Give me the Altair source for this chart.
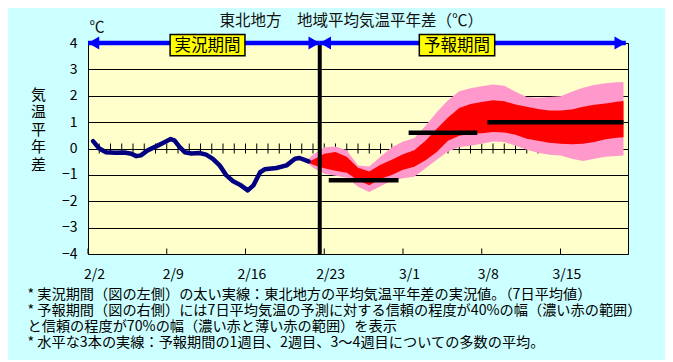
import altair as alt
import pandas as pd

FONT = "Noto Sans CJK JP"

# ---------------- data ----------------
tick_days = [0, 7, 14, 21, 28, 35, 42]
tick_labels = ["2/2", "2/9", "2/16", "2/23", "3/1", "3/8", "3/15"]
minor_days = list(range(1, 48))
y_ticks = [-4, -3, -2, -1, 0, 1, 2, 3, 4]

# observed 7-day mean anomaly (days since 2/2)
obs_day = [0.45, 1.0, 1.6, 2.4, 3.25, 3.85, 4.3, 4.7, 5.3, 6.1, 6.8, 7.35, 7.7, 8.15,
           8.6, 9.2, 9.9, 10.5, 11.1, 11.7, 12.3, 12.9, 13.5, 14.2, 14.7, 15.3, 15.7,
           16.75, 17.65, 18.4, 18.8, 19.6]
obs_val = [0.28, 0.0, -0.14, -0.16, -0.15, -0.20, -0.29, -0.26, -0.07, 0.09, 0.24, 0.36,
           0.30, 0.05, -0.14, -0.19, -0.17, -0.23, -0.39, -0.64, -1.02, -1.24, -1.37,
           -1.59, -1.40, -0.90, -0.79, -0.74, -0.64, -0.39, -0.36, -0.49]

# forecast ranges
band_day = [19.6, 20, 21, 22, 23, 24, 25, 26, 27, 28, 29, 30, 31, 32, 33, 34, 35, 36,
            37, 38, 39, 40, 41, 42, 43, 44, 45, 46, 47, 47.6]
pink_hi = [-0.39, -0.24, 0.05, 0.08, -0.07, -0.64, -0.68, -0.31, 0.05, 0.27, 0.39, 0.86,
           1.37, 1.83, 2.17, 2.28, 2.36, 2.43, 2.38, 2.15, 1.95, 1.92, 1.95, 1.98, 2.15,
           2.30, 2.41, 2.47, 2.51, 2.52]
red_hi = [-0.49, -0.43, -0.20, -0.13, -0.31, -0.73, -0.87, -0.62, -0.43, -0.22, -0.07, 0.29,
          0.75, 1.18, 1.54, 1.69, 1.76, 1.83, 1.79, 1.67, 1.58, 1.50, 1.44, 1.44, 1.48,
          1.58, 1.66, 1.71, 1.77, 1.80]
red_lo = [-0.54, -0.62, -0.75, -0.84, -0.92, -1.20, -1.39, -1.15, -1.00, -0.81, -0.69, -0.45,
          -0.13, 0.29, 0.48, 0.56, 0.58, 0.63, 0.61, 0.52, 0.37, 0.29, 0.22, 0.18, 0.16,
          0.18, 0.25, 0.35, 0.41, 0.43]
pink_lo = [-0.58, -0.73, -0.96, -1.03, -1.11, -1.45, -1.65, -1.43, -1.22, -1.13, -1.07, -0.75,
           -0.43, -0.11, 0.06, 0.10, 0.18, 0.27, 0.25, 0.10, -0.05, -0.16, -0.24, -0.27,
           -0.39, -0.47, -0.39, -0.31, -0.28, -0.27]

# weekly ensemble means
week_start = [21.4, 28.5, 35.5]
week_end = [27.6, 34.6, 47.6]
week_val = [-1.2, 0.6, 1.0]

# periods
boundary_day = 20.6
period_names = ["実況期間", "予報期間"]
period_start = [0, 20.6]
period_end = [20.6, 47.8]

title_text = "東北地方　地域平均気温平年差（℃）"
notes = [
    "* 実況期間（図の左側）の太い実線：東北地方の平均気温平年差の実況値。（7日平均値）",
    "* 予報期間（図の右側）には7日平均気温の予測に対する信頼の程度が40%の幅（濃い赤の範囲）",
    "\u00a0\u00a0と信頼の程度が70%の幅（濃い赤と薄い赤の範囲）を表示",
    "* 水平な3本の実線：予報期間の1週目、2週目、3～4週目についての多数の平均。",
]

# ---------------- annotation placement (data units) ----------------
label_box = pd.DataFrame({
    "name": period_names,
    "x0": [7.3, 29.45], "x1": [13.95, 36.15],
    "y0": [3.52, 3.52], "y1": [4.32, 4.32],
    "xc": [10.62, 32.8], "yc": [3.9, 3.9],
})
heads_left = pd.DataFrame({"d": [0.5, 21.1], "v": [4, 4]})
heads_right = pd.DataFrame({"d": [20.1, 47.3], "v": [4, 4]})
title_df = pd.DataFrame({"d": [23.4], "v": [4.84], "t": [title_text]})
unit_df = pd.DataFrame({"d": [0.8], "v": [4.6], "t": ["℃"]})

# ---------------- tables ----------------
obs = pd.DataFrame({"day": obs_day, "val": obs_val})
band = pd.DataFrame({"day": band_day, "ph": pink_hi, "rh": red_hi, "rl": red_lo, "pl": pink_lo})
weeks = pd.DataFrame({"s": week_start, "e": week_end, "v": week_val})
periods = pd.DataFrame({"s": period_start, "e": period_end, "v": [4, 4]})
minor = pd.DataFrame({"day": minor_days, "v": [0] * len(minor_days)})
major = pd.DataFrame({"day": tick_days, "v": [-4] * len(tick_days)})
boundary = pd.DataFrame({"d": [boundary_day], "lo": [-4], "hi": [4]})

X = alt.Scale(domain=[0, 48], nice=False, zero=False)
Y = alt.Scale(domain=[-4, 4], nice=False, zero=False)

label_expr = " : ".join(f"datum.value == {d} ? '{l}'" for d, l in zip(tick_days, tick_labels)) + " : ''"

x_axis = alt.Axis(values=tick_days, labelExpr=label_expr, grid=False, ticks=False, domain=False,
                  labelFont=FONT, labelFontSize=14, labelColor="black", labelPadding=13, labelOffset=6,
                  labelFlush=False, labelOverlap=False,
                  title=notes, titleFont=FONT, titleFontSize=14.2, titleFontWeight="normal",
                  titleColor="black", titleAnchor="start", titleAlign="left", titleBaseline="top",
                  titleX=-61, titleY=33, titleLineHeight=16, titleLimit=2000)
y_axis = alt.Axis(values=y_ticks, grid=True, gridColor="black", gridOpacity=1, gridWidth=1,
                  ticks=False, domain=False, labelFont=FONT, labelFontSize=14, labelColor="black",
                  labelPadding=11, labelOverlap=False, labelFlush=False,
                  title=list("気温平年差"), titleAngle=0, titleAlign="center",
                  titleBaseline="top", titleX=-50, titleY=44, titleLineHeight=17.5,
                  titleFont=FONT, titleFontSize=15, titleFontWeight="normal", titleColor="black")


def xq(f):
    return alt.X(f, type="quantitative", scale=X, axis=x_axis)


def yq(f):
    return alt.Y(f, type="quantitative", scale=Y, axis=y_axis)


minor_ticks = alt.Chart(minor).mark_tick(orient="vertical", size=10, thickness=1, color="black",
                                         opacity=1).encode(x=xq("day"), y=yq("v"))
major_ticks = alt.Chart(major).mark_tick(orient="vertical", size=5.5, thickness=1, color="black",
                                         opacity=1, yOffset=-2.75).encode(x=xq("day"), y=yq("v"))

pink = alt.Chart(band).mark_area(color="#FF99CC", opacity=1).encode(x=xq("day"), y=yq("pl"), y2="ph:Q")
red = alt.Chart(band).mark_area(color="#FF0000", opacity=1).encode(x=xq("day"), y=yq("rl"), y2="rh:Q")

line = alt.Chart(obs).mark_line(color="#000080", strokeWidth=4.5, strokeJoin="round",
                                strokeCap="round").encode(x=xq("day"), y=yq("val"))

week_rules = alt.Chart(weeks).mark_rule(color="black", strokeWidth=4.5).encode(
    x=xq("s"), x2="e:Q", y=yq("v"))

vline = alt.Chart(boundary).mark_rule(color="black", strokeWidth=4).encode(
    x=xq("d"), y=yq("lo"), y2="hi:Q")

shafts = alt.Chart(periods).mark_rule(color="#0000FF", strokeWidth=4.5).encode(
    x=xq("s"), x2="e:Q", y=yq("v"))
hl = alt.Chart(heads_left).mark_point(shape="triangle-left", filled=True, size=170, color="#0000FF",
                                      opacity=1).encode(x=xq("d"), y=yq("v"))
hr = alt.Chart(heads_right).mark_point(shape="triangle-right", filled=True, size=170, color="#0000FF",
                                       opacity=1).encode(x=xq("d"), y=yq("v"))

boxes = alt.Chart(label_box).mark_rect(fill="#FFFF00", stroke="black", strokeWidth=1.5).encode(
    x=xq("x0"), x2="x1:Q", y=yq("y0"), y2="y1:Q")
box_text = alt.Chart(label_box).mark_text(font=FONT, fontSize=16.5, color="black", align="center",
                                          baseline="middle").encode(x=xq("xc"), y=yq("yc"), text="name:N")

title = alt.Chart(title_df).mark_text(font=FONT, fontSize=15.5, color="#111111", align="center",
                                      baseline="middle").encode(x=xq("d"), y=yq("v"), text="t:N")
unit = alt.Chart(unit_df).mark_text(font=FONT, fontSize=15, color="#111111", align="center",
                                    baseline="middle").encode(x=xq("d"), y=yq("v"), text="t:N")

chart = alt.layer(
    minor_ticks, major_ticks, pink, red, line, week_rules, vline, shafts, hl, hr, boxes, box_text, title, unit
).properties(
    width=540, height=211,
    padding={"left": 80, "top": 35, "right": 37, "bottom": 106},
    autosize=alt.AutoSizeParams(type="none"),
    background="#CCFFFF",
).configure_view(fill="#FFFFCC", stroke="black", strokeWidth=1)

chart.save("out.html", embed_options={"renderer": "svg", "actions": False})
